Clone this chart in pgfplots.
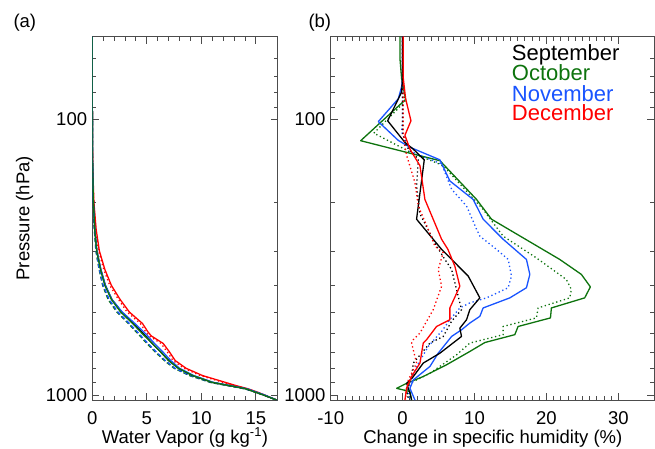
\documentclass[border=0pt]{standalone}
\usepackage{fontspec}
\setmainfont{Liberation Sans}
\usepackage{pgfplots}
\pgfplotsset{compat=1.18}
\definecolor{oct}{rgb}{0.05,0.45,0.05}
\definecolor{nov}{rgb}{0.1,0.33,1}
\definecolor{dec}{rgb}{1,0,0}
\definecolor{axc}{rgb}{0.3,0.3,0.3}
\pgfplotsset{
  every axis/.append style={
    scale only axis, height=363.3pt,
    axis line style={axc, line width=0.9pt},
    tick style={axc, line width=0.9pt},
    major tick length=7pt, minor tick length=4pt,
    tick label style={font=\fontsize{18.5}{20}\selectfont},
    yticklabel style={anchor=east, inner sep=0pt, xshift=-5pt},
    xticklabel style={anchor=north, inner sep=0pt, yshift=-11.7pt},
  },
  every axis plot/.append style={line width=1.3pt, line join=round},
}
\tikzset{dotline/.style={dash pattern=on 1.3pt off 2.7pt}}
\begin{document}
\begin{tikzpicture}
\useasboundingbox (0pt,0pt) rectangle (655pt,449pt);

% (a) water vapour profiles
\begin{axis}[at={(92.3pt,49pt)}, anchor=south west, width=185.4pt,
  ymode=log, y dir=reverse, ymin=50, ymax=1043,
  ytick={100,1000}, yticklabels={100,1000},
  minor ytick={50,60,70,80,90,200,300,400,500,600,700,800,900},
  xmin=0, xmax=17, xtick={0,5,10,15}, xticklabels={0,5,10,15}, minor x tick num=4]
\addplot[dec] coordinates {(0,50)(0.005,100)(0.04,150)(0.15,200)(0.35,250)(0.65,300)(1.15,350)(1.75,400)(2.55,450)(3.4,500)(4.6,550)(5.1,590)(5.4,610)(6.5,650)(7.1,700)(7.6,750)(8.6,800)(10.1,850)(12.2,900)(13.2,925)(14.3,950)(15.1,975)(15.8,1000)(16.9,1043)};
\addplot[dec, dotline] coordinates {(0,50)(0.005,100)(0.035,150)(0.13,200)(0.31,250)(0.58,300)(1.05,350)(1.6,400)(2.4,450)(3.2,500)(4.4,550)(4.9,590)(5.2,610)(6.3,650)(6.9,700)(7.4,750)(8.4,800)(9.9,850)(12.0,900)(13.0,925)(14.2,950)(15.0,975)(15.7,1000)(16.9,1043)};
\addplot[oct, dash pattern=on 4pt off 2.5pt] coordinates {(0,50)(0.004,100)(0.025,150)(0.08,200)(0.18,250)(0.33,300)(0.62,350)(0.95,400)(1.45,450)(2.25,500)(3.3,550)(4.2,600)(5.0,650)(5.8,700)(6.6,750)(7.5,800)(8.9,850)(10.8,900)(12.4,925)(14.0,950)(14.9,975)(15.7,1000)(16.9,1043)};
\addplot[nov, dash pattern=on 4pt off 2.5pt] coordinates {(0,50)(0.004,100)(0.026,150)(0.085,200)(0.19,250)(0.35,300)(0.65,350)(1.0,400)(1.55,450)(2.35,500)(3.4,550)(4.3,600)(5.1,650)(5.9,700)(6.7,750)(7.6,800)(9.0,850)(10.9,900)(12.5,925)(14.0,950)(14.9,975)(15.7,1000)(16.9,1043)};
\addplot[black] coordinates {(0,50)(0.005,100)(0.03,150)(0.1,200)(0.22,250)(0.42,300)(0.78,350)(1.2,400)(1.8,450)(2.7,500)(3.8,550)(4.7,600)(5.5,650)(6.3,700)(7.0,750)(7.9,800)(9.2,850)(11.0,900)(12.6,925)(14.1,950)(14.9,975)(15.7,1000)(16.9,1043)};
\addplot[nov] coordinates {(0,50)(0.005,100)(0.03,150)(0.1,200)(0.22,250)(0.42,300)(0.78,350)(1.2,400)(1.8,450)(2.75,500)(3.9,550)(4.9,600)(5.7,650)(6.5,700)(7.2,750)(8.0,800)(9.3,850)(11.1,900)(12.7,925)(14.2,950)(15.0,975)(15.8,1000)(16.9,1043)};
\addplot[oct] coordinates {(0,50)(0.005,100)(0.03,150)(0.1,200)(0.22,250)(0.4,300)(0.75,350)(1.15,400)(1.75,450)(2.6,500)(3.7,550)(4.6,600)(5.5,650)(6.3,700)(7.0,750)(7.9,800)(9.2,850)(11.0,900)(12.6,925)(14.1,950)(14.9,975)(15.7,1000)(16.9,1043)};
\end{axis}

% (b) change in specific humidity
\begin{axis}[at={(330.7pt,49pt)}, anchor=south west, width=323.6pt,
  ymode=log, y dir=reverse, ymin=50, ymax=1043,
  ytick={100,1000}, yticklabels={100,1000},
  minor ytick={50,60,70,80,90,200,300,400,500,600,700,800,900},
  xmin=-10, xmax=35, xtick={-10,0,10,20,30}, xticklabels={-10,0,10,20,30},
  minor x tick num=9]
% October
\addplot[oct, dotline] coordinates {(0,50)(0,75)(0.32,86)(-4.0,112)(1.0,131)(5.65,147)(11.2,212)(13.98,265)(18.61,318)(22.78,381)(23.47,414)(23.24,444)(18.84,483)(18.61,525)(13.98,564)(13.98,604)(9.35,648)(7.5,715)(3.8,834)(1.02,907)(0.3,960)(0.8,1000)(1.0,1043)};
\addplot[oct] coordinates {(-0.37,50)(-0.37,60)(-0.14,71)(0.42,84.5)(-5.83,119.3)(0.79,132)(5.19,141)(10.28,195)(12.36,230)(21.85,322)(24.86,365)(26.11,405)(25.32,444)(20.69,483)(20.56,525)(16.06,564)(15.60,604)(11.44,645)(9.35,695)(6.11,777)(2.87,857)(0.56,907)(-0.83,946)(1.02,972)(1.25,1043)};
% November
\addplot[nov, dotline] coordinates {(0,50)(0,100)(-0.14,111)(1.0,130)(5.42,145)(6.81,179)(8.89,206)(10.28,250)(10.74,265)(13.06,296)(14.68,322)(15.14,370)(14.68,408)(11.67,444)(9.35,463)(7.96,483)(6.57,533)(5.42,588)(5.19,596)(3.56,667)(1.94,788)(1.25,882)(0.8,960)(1.0,1043)};
\addplot[nov] coordinates {(0,50)(0,71)(-0.14,76)(-0.6,84)(-3.38,101.7)(-0.6,119)(1.02,126)(5.19,140)(6.57,167)(9.81,195)(11.2,230)(13.98,272)(17.22,322)(17.69,365)(17.22,408)(14.91,444)(11.2,483)(10.74,518)(9.35,548)(8.19,580)(6.81,613)(4.95,705)(3.8,788)(1.48,882)(1.02,946)(1.71,1043)};
% September
\addplot[black, dotline] coordinates {(0,50)(0,111)(0.5,125)(2.18,139)(1.94,174)(2.41,220)(4.72,288)(5.88,322)(6.81,350)(8.19,490)(6.81,540)(5.65,613)(3.8,648)(1.48,766)(1.25,857)(0.56,960)(0.8,1043)};
\addplot[black] coordinates {(0,50)(0,71)(-0.14,79.5)(-2.08,101)(0.32,121)(1.48,128)(3.01,140)(1.94,230)(5.42,296)(9.12,370)(10.74,444)(9.35,490)(8.89,533)(7.96,572)(8.19,613)(5.19,705)(2.87,766)(1.48,858)(0.56,907)(1.02,986)(1.25,1043)};
% December
\addplot[dec, dotline] coordinates {(0.1,50)(0.1,111)(0.3,125)(0.56,135)(1.71,169)(2.18,206)(3.56,250)(4.49,288)(5.65,304)(4.95,350)(5.42,403)(4.26,490)(2.41,596)(1.48,630)(1.25,648)(1.94,766)(0.8,882)(0.5,960)(0.4,1043)};
\addplot[dec] coordinates {(0.1,50)(0.1,71)(0.42,84)(1.16,101)(0.32,114)(1.02,128)(2.41,147)(3.10,195)(5.42,272)(6.3,296)(7.27,341)(7.96,403)(6.57,483)(6.57,533)(4.72,564)(3.33,630)(2.87,648)(2.41,766)(1.25,857)(0.56,946)(0.32,1043)};
\end{axis}

% labels
\node[anchor=base west, inner sep=0pt, font=\fontsize{18.5}{20}\selectfont] at (13.3pt,421.2pt) {(a)};
\node[anchor=base west, inner sep=0pt, font=\fontsize{18.5}{20}\selectfont] at (308.3pt,421.2pt) {(b)};
\node[anchor=base, inner sep=0pt, rotate=90, font=\fontsize{18.5}{20}\selectfont] at (29.4pt,230.7pt) {Pressure (hPa)};
\node[anchor=base, inner sep=0pt, font=\fontsize{18.5}{20}\selectfont] at (185pt,5.8pt) {Water Vapor (g kg\textsuperscript{-1})};
\node[anchor=base, inner sep=0pt, font=\fontsize{18.5}{20}\selectfont] at (492.8pt,5.8pt) {Change in specific humidity (\%)};
\node[anchor=base west, inner sep=0pt, font=\fontsize{22}{24}\selectfont] at (511.7pt,388.3pt) {September};
\node[anchor=base west, inner sep=0pt, font=\fontsize{22}{24}\selectfont, text=oct] at (511.7pt,368.3pt) {October};
\node[anchor=base west, inner sep=0pt, font=\fontsize{22}{24}\selectfont, text=nov] at (511.7pt,347.3pt) {November};
\node[anchor=base west, inner sep=0pt, font=\fontsize{22}{24}\selectfont, text=dec] at (511.7pt,328.3pt) {December};
\end{tikzpicture}
\end{document}
